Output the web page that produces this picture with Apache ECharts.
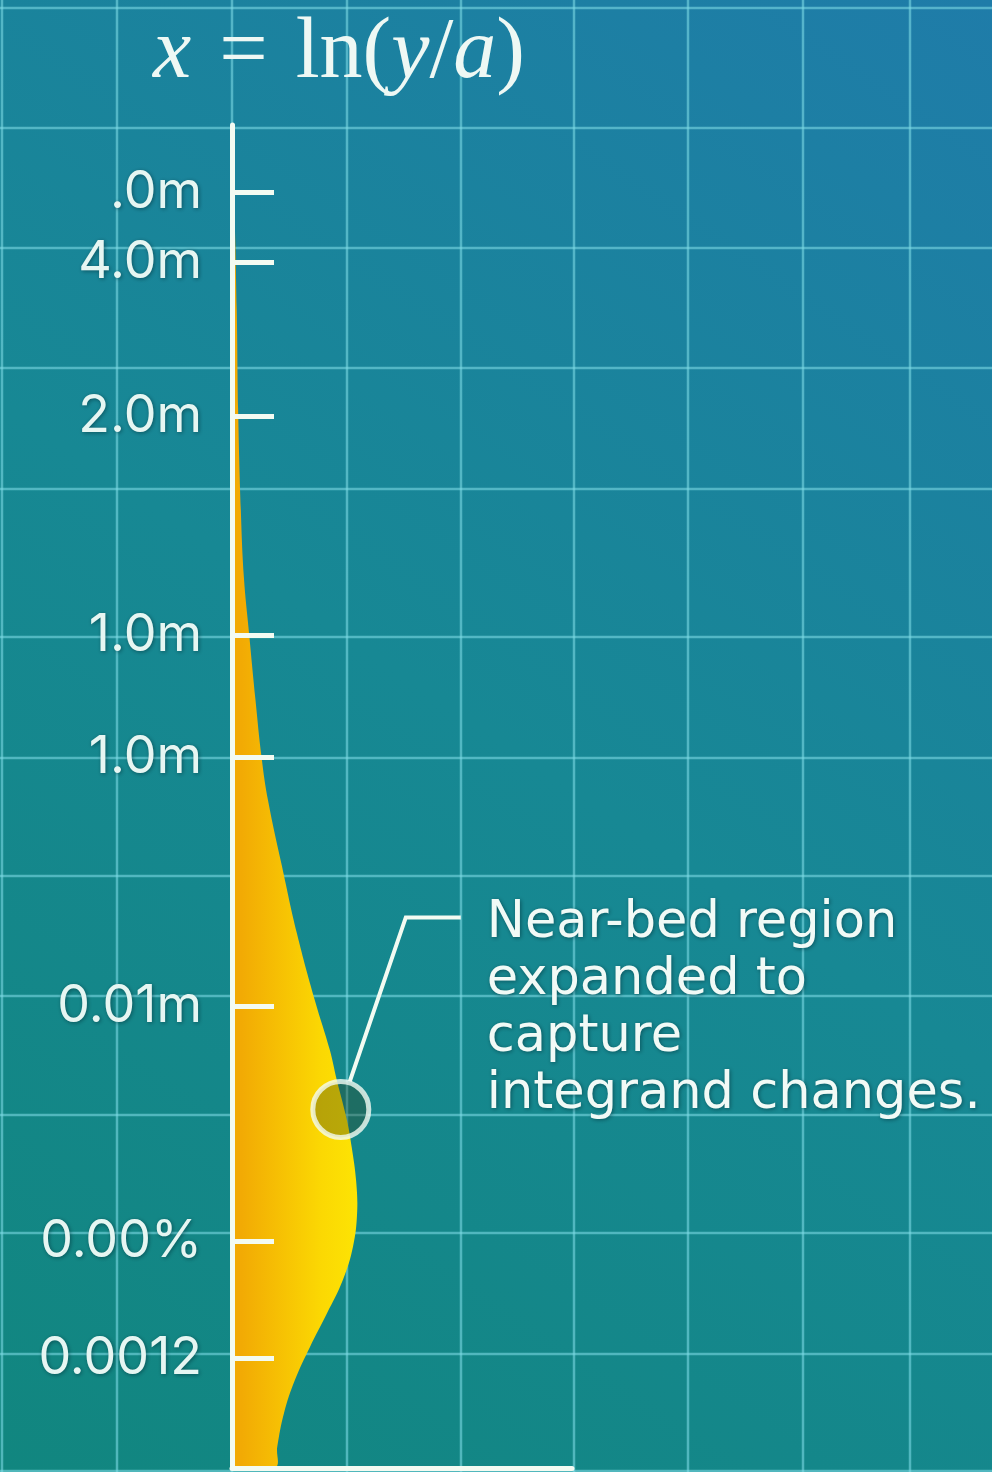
<!DOCTYPE html>
<html>
<head>
<meta charset="utf-8">
<style>
html,body{margin:0;padding:0;width:992px;height:1472px;overflow:hidden;background:#178695;}
#c{width:992px;height:1472px;}
</style>
<script src="https://cdn.jsdelivr.net/npm/echarts@6/dist/echarts.min.js"></script>
</head>
<body>
<div id="c"></div>
<script>
// ---- data ----
const tickPositions = [95.0, 89.8, 78.3, 62.0, 52.9, 34.4, 16.9, 8.2];
const tickLabels = ['.0m', '4.0m', '2.0m', '1.0m', '1.0m', '0.01m', '0.00%', '0.0012'];
const profileY = [100, 95.0, 86.2, 78.8, 71.3, 66.3, 62.2, 57.2, 52.9, 49.7, 44.8, 39.8, 34.8, 31.1, 28.9, 25.9, 23.9, 21.4, 19.0, 16.5, 14.0, 11.5, 9.0, 6.55, 4.1, 1.56, 0];
const profileX = [0, 0.06, 0.14, 0.18, 0.26, 0.35, 0.5, 0.69, 0.87, 1.06, 1.47, 1.91, 2.44, 2.88, 3.08, 3.38, 3.52, 3.65, 3.68, 3.56, 3.26, 2.79, 2.29, 1.85, 1.53, 1.33, 1.26];
const annotPoint = [3.2, 26.7];
const annotLines = ['Near-bed region', 'expanded to', 'capture', 'integrand changes.'];

// ---- decoration (background grid) ----
const bgVLines = [2, 117, 232, 347, 461, 574, 688, 803, 910];
const bgHLines = [8, 128, 248, 368, 489, 637, 758, 876, 996, 1115, 1233, 1354, 1471];

const chart = echarts.init(document.getElementById('c'), null, {renderer: 'canvas'});

const gridColor = 'rgba(125,218,230,0.58)';
const bgGraphics = [{
  type: 'rect', z: -20, silent: true,
  shape: {x: 0, y: 0, width: 992, height: 1472},
  style: {fill: new echarts.graphic.LinearGradient(0, 1, 1, 0, [
    {offset: 0, color: '#11867f'},
    {offset: 0.5, color: '#178894'},
    {offset: 1, color: '#1f7ca9'}
  ])}
}];
bgVLines.forEach(x => bgGraphics.push({type: 'line', z: -10, silent: true,
  shape: {x1: x, y1: 0, x2: x, y2: 1472}, style: {stroke: gridColor, lineWidth: 2.5}}));
bgHLines.forEach(y => bgGraphics.push({type: 'line', z: -10, silent: true,
  shape: {x1: 0, y1: y, x2: 992, y2: y}, style: {stroke: gridColor, lineWidth: 2.5}}));

const labelShadow = {textShadowColor: 'rgba(0,40,50,0.55)', textShadowBlur: 4, textShadowOffsetX: 1, textShadowOffsetY: 1};

function labelFor(v) {
  let best = 0, bd = Infinity;
  tickPositions.forEach((p, i) => { const d = Math.abs(p - v); if (d < bd) { bd = d; best = i; } });
  return tickLabels[best];
}

const serif = 'Liberation Serif';
const titleColor = '#eef8f4';
const tfs = 86;
const option = {
  animation: false,
  title: {
    text: '{i|x}{eq|=}{n|ln(}{i|y}{n|/}{i|a}{n|)}',
    left: 148, top: 6,
    textStyle: {
      fontFamily: serif, fontSize: tfs, fontWeight: 'normal', color: titleColor,
      rich: {
        i: {fontFamily: serif, fontStyle: 'italic', fontWeight: 'normal', fontSize: tfs, color: titleColor},
        n: {fontFamily: serif, fontWeight: 'normal', fontSize: tfs, color: titleColor},
        eq: {fontFamily: serif, fontWeight: 'normal', fontSize: tfs, color: titleColor, padding: [0, 28, 0, 28]}
      }
    }
  },
  grid: {left: 232, right: 420, top: 125, bottom: 4, containLabel: false},
  xAxis: {
    type: 'value', min: 0, max: 10, z: 10,
    axisLine: {show: true, onZero: false, lineStyle: {color: '#f3fbf2', width: 5}},
    axisTick: {show: false}, axisLabel: {show: false}, splitLine: {show: false}
  },
  yAxis: {
    type: 'value', min: 0, max: 100, z: 10,
    axisLine: {show: true, onZero: false, lineStyle: {color: '#f3fbf2', width: 5}},
    axisTick: {show: true, inside: true, length: 42, customValues: tickPositions,
      lineStyle: {color: '#f3fbf2', width: 5}},
    axisLabel: {show: true, customValues: tickPositions, margin: 30,
      fontFamily: 'Inter', fontSize: 52, color: '#e6f6f2',
      formatter: v => labelFor(v), ...labelShadow},
    splitLine: {show: false}
  },
  series: [
    {
      type: 'custom', clip: true, z: 1,
      data: profileX.map((x, i) => [x, profileY[i]]),
      renderItem: function (params, api) {
        if (params.dataIndex !== 0) return null;
        const pts = [];
        for (let i = 0; i < profileX.length; i++) pts.push(api.coord([profileX[i], profileY[i]]));
        const top = api.coord([0, profileY[0]]);
        const bot = api.coord([0, profileY[profileY.length - 1]]);
        pts.push([bot[0] - 10, bot[1] + 10]);
        pts.push([top[0] - 10, top[1] - 10]);
        return {
          type: 'polygon',
          shape: {points: pts, smooth: 0.4},
          style: {
            fill: new echarts.graphic.LinearGradient(0, 0, 1, 0, [
              {offset: 0, color: '#f3ae04'},
              {offset: 0.2, color: '#f2aa04'},
              {offset: 0.75, color: '#fbd803'},
              {offset: 1, color: '#fde404'}
            ])
          }
        };
      }
    },
    {
      type: 'scatter', z: 5,
      data: [annotPoint],
      symbol: 'circle', symbolSize: 56,
      itemStyle: {color: 'rgba(50,60,20,0.42)', borderColor: '#f4fbf2', borderWidth: 5}
    }
  ],
  graphic: bgGraphics
};
chart.setOption(option);

// annotation leader and text, anchored to the annotated point
const c = chart.convertToPixel({gridIndex: 0}, annotPoint);
const leader = {
  type: 'polyline', z: 10, silent: true,
  shape: {points: [[c[0] + 9, c[1] - 28], [c[0] + 65, c[1] - 192], [c[0] + 120, c[1] - 192]]},
  style: {stroke: '#f3fbf2', lineWidth: 4, fill: null}
};
const txt = {
  type: 'text', z: 10, silent: true,
  x: c[0] + 146, y: c[1] - 214,
  style: {
    text: annotLines.join('\n'),
    fontFamily: 'DejaVu Sans', fontSize: 51, lineHeight: 57,
    fill: '#f1faf6', verticalAlign: 'top',
    textShadowColor: 'rgba(0,40,50,0.55)', textShadowBlur: 4, textShadowOffsetX: 1, textShadowOffsetY: 1
  }
};
chart.setOption({graphic: bgGraphics.concat([leader, txt])});
</script>
</body>
</html>
